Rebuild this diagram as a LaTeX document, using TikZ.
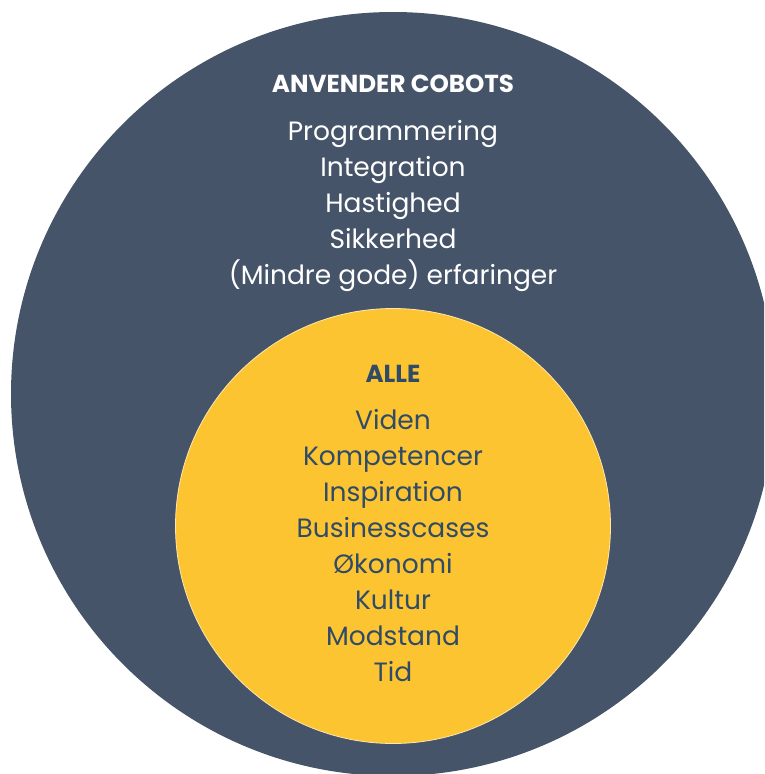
\documentclass[tikz,border=0pt]{standalone}
\usepackage{fontspec}
\setmainfont{Poppins}
\definecolor{slate}{HTML}{465469}
\definecolor{sun}{HTML}{FDC431}
\definecolor{ink}{HTML}{2F4B68}
\begin{document}
\begin{tikzpicture}[x=1pt,y=-1pt,
  heading/.style={anchor=base,font=\fontsize{24.6}{29}\selectfont\bfseries},
  item/.style={anchor=base,font=\fontsize{26.5}{31}\selectfont},
  outertext/.style={text=white},
  innertext/.style={text=ink}]
\useasboundingbox (0,0) rectangle (764,774);
\clip (0,0) rectangle (764,774);
% outer circle: users of cobots
\fill[slate] (393,394) circle[radius=382];
% inner circle: everyone
\draw[sun!40!white,line width=0.8pt,fill=sun] (393,526) circle[radius=217.5];
% outer labels
\node[heading,outertext] (h1) at (393,92) {ANVENDER COBOTS};
\node[item,outertext] (o1) at (393,140) {Programmering};
\node[item,outertext] (o2) at (393,176) {Integration};
\node[item,outertext] (o3) at (393,212) {Hastighed};
\node[item,outertext] (o4) at (393,248) {Sikkerhed};
\node[item,outertext] (o5) at (393,284) {(Mindre gode) erfaringer};
% inner labels
\node[heading,innertext] (h2) at (393,382) {ALLE};
\node[item,innertext] (i1) at (393,429) {Viden};
\node[item,innertext] (i2) at (393,465) {Kompetencer};
\node[item,innertext] (i3) at (393,501) {Inspiration};
\node[item,innertext] (i4) at (393,537) {Businesscases};
\node[item,innertext] (i5) at (393,573) {Økonomi};
\node[item,innertext] (i6) at (393,609) {Kultur};
\node[item,innertext] (i7) at (393,645) {Modstand};
\node[item,innertext] (i8) at (393,681) {Tid};
\end{tikzpicture}
\end{document}
